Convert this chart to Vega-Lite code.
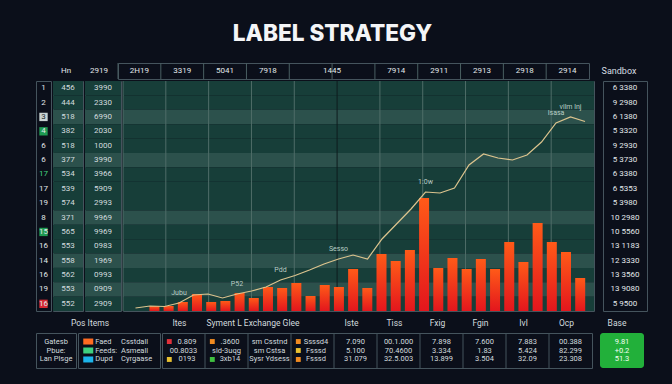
{
  "$schema": "https://vega.github.io/schema/vega-lite/v6.json",
  "background": "#0b0f1a",
  "padding": {"left": 35, "top": 23, "right": 34, "bottom": 18},
  "title": {"text": "LABEL STRATEGY", "font": "Inter", "fontSize": 22.6, "fontWeight": 800, "color": "#f4f5f7", "anchor": "middle", "offset": 16, "dx": -9},
  "config": {
    "view": {"stroke": "#45545d", "strokeWidth": 1},
    "axis": {"disable": true},
    "legend": {"disable": true},
    "text": {"font": "Roboto", "fontSize": 8, "color": "#d2dbdf"}
  },
  "datasets": {
    "rows": [
      {"row": "1", "lab": "1", "a": "456", "b": "3990", "sb": "6 3380"},
      {"row": "2", "lab": "2", "a": "444", "b": "2330", "sb": "9 2980"},
      {"row": "3", "lab": "3", "a": "518", "b": "6990", "sb": "6 1380"},
      {"row": "4", "lab": "4", "a": "382", "b": "2030", "sb": "5 3320"},
      {"row": "5", "lab": "6", "a": "518", "b": "1000", "sb": "9 2930"},
      {"row": "6", "lab": "6", "a": "377", "b": "3990", "sb": "5 3730"},
      {"row": "7", "lab": "17", "a": "534", "b": "3966", "sb": "6 3380"},
      {"row": "8", "lab": "17", "a": "539", "b": "5909", "sb": "6 5353"},
      {"row": "9", "lab": "19", "a": "574", "b": "2993", "sb": "5 3980"},
      {"row": "10", "lab": "8", "a": "371", "b": "9969", "sb": "10 2980"},
      {"row": "11", "lab": "15", "a": "565", "b": "9969", "sb": "10 5560"},
      {"row": "12", "lab": "16", "a": "553", "b": "0983", "sb": "13 1183"},
      {"row": "13", "lab": "14", "a": "558", "b": "1969", "sb": "12 3330"},
      {"row": "14", "lab": "16", "a": "562", "b": "0993", "sb": "13 3560"},
      {"row": "15", "lab": "19", "a": "553", "b": "0909", "sb": "13 9080"},
      {"row": "16", "lab": "16", "a": "552", "b": "2909", "sb": "5 9500"}
    ],
    "cols": [
      {"col": 0, "h": "2H19"}, {"col": 1, "h": "3319"}, {"col": 2, "h": "5041"},
      {"col": 3, "h": "7918"}, {"col": 4, "h": "1445"}, {"col": 5, "h": ""},
      {"col": 6, "h": "7914"}, {"col": 7, "h": "2911"}, {"col": 8, "h": "2913"},
      {"col": 9, "h": "2918"}, {"col": 10, "h": "2914"}
    ],
    "series": [
      {"i": 0, "bar": null, "line": 3},
      {"i": 1, "bar": 5, "line": 5},
      {"i": 2, "bar": 5, "line": 4.5},
      {"i": 3, "bar": 9, "line": 8, "note": "Jubu"},
      {"i": 4, "bar": 17, "line": 16},
      {"i": 5, "bar": 9, "line": 17},
      {"i": 6, "bar": 10, "line": 13},
      {"i": 7, "bar": 18, "line": 17, "note": "P52"},
      {"i": 8, "bar": 13, "line": 20},
      {"i": 9, "bar": 24, "line": 24},
      {"i": 10, "bar": 23, "line": 31, "note": "Pdd"},
      {"i": 11, "bar": 28, "line": 35.5},
      {"i": 12, "bar": 15, "line": 41},
      {"i": 13, "bar": 26, "line": 47},
      {"i": 14, "bar": 24, "line": 52, "note": "Sesso"},
      {"i": 15, "bar": 42, "line": 56},
      {"i": 16, "bar": 23, "line": 52},
      {"i": 17, "bar": 57, "line": 72},
      {"i": 18, "bar": 50, "line": 87},
      {"i": 19, "bar": 61, "line": 102},
      {"i": 20, "bar": 113, "line": 119, "note": "1:0w"},
      {"i": 21, "bar": 43, "line": 118},
      {"i": 22, "bar": 53, "line": 123},
      {"i": 23, "bar": 42, "line": 146},
      {"i": 24, "bar": 52, "line": 157},
      {"i": 25, "bar": 42, "line": 153},
      {"i": 26, "bar": 69, "line": 151},
      {"i": 27, "bar": 49, "line": 156},
      {"i": 28, "bar": 88, "line": 169},
      {"i": 29, "bar": 69, "line": 188, "note": "Isasa"},
      {"i": 30, "bar": 59, "line": 194, "note": "vilm lnj"},
      {"i": 31, "bar": 33, "line": 189.5}
    ],
    "bhead": [
      {"col": 0, "h": "Ites"}, {"col": 1, "h": "Syment L Exchange Glee"}, {"col": 2, "h": ""},
      {"col": 3, "h": ""}, {"col": 4, "h": "Iste"}, {"col": 5, "h": "Tiss"},
      {"col": 6, "h": "Fxig"}, {"col": 7, "h": "Fgin"}, {"col": 8, "h": "Ivl"}, {"col": 9, "h": "Ocp"}
    ],
    "bA": [
      {"line": "1", "t": "Gatesb"}, {"line": "2", "t": "Pbue:"}, {"line": "3", "t": "Lan Plsge"}
    ],
    "bB": [
      {"line": "1", "lab": "Faed", "desc": "Csstdall"},
      {"line": "2", "lab": "Feeds:", "desc": "Asmeall"},
      {"line": "3", "lab": "Dupd", "desc": "Cyrgaase"}
    ],
    "cells": [
      {"col": 0, "line": "1", "t": "0.809", "flag": "red"},
      {"col": 0, "line": "2", "t": "00.8033"},
      {"col": 0, "line": "3", "t": "0193", "flag": "amber"},
      {"col": 1, "line": "1", "t": ".3600", "flag": "orange"},
      {"col": 1, "line": "2", "t": "sld-3uqg"},
      {"col": 1, "line": "3", "t": "3xb14", "flag": "green"},
      {"col": 2, "line": "1", "t": "sm Csstnd"},
      {"col": 2, "line": "2", "t": "sm Cstsa"},
      {"col": 2, "line": "3", "t": "Sysr Ydsess"},
      {"col": 3, "line": "1", "t": "Ssssd4", "flag": "orange"},
      {"col": 3, "line": "2", "t": "Fsssd", "flag": "amber"},
      {"col": 3, "line": "3", "t": "Fsssd", "flag": "orange"},
      {"col": 4, "line": "1", "t": "7.090"},
      {"col": 4, "line": "2", "t": "5.100"},
      {"col": 4, "line": "3", "t": "31.079"},
      {"col": 5, "line": "1", "t": "00.1.000"},
      {"col": 5, "line": "2", "t": "70.4600"},
      {"col": 5, "line": "3", "t": "32.5.003"},
      {"col": 6, "line": "1", "t": "7.898"},
      {"col": 6, "line": "2", "t": "3.334"},
      {"col": 6, "line": "3", "t": "13.899"},
      {"col": 7, "line": "1", "t": "7.600"},
      {"col": 7, "line": "2", "t": "1.83"},
      {"col": 7, "line": "3", "t": "3.504"},
      {"col": 8, "line": "1", "t": "7.883"},
      {"col": 8, "line": "2", "t": "5.424"},
      {"col": 8, "line": "3", "t": "32.09"},
      {"col": 9, "line": "1", "t": "00.388"},
      {"col": 9, "line": "2", "t": "82.299"},
      {"col": 9, "line": "3", "t": "23.308"}
    ],
    "base": [
      {"line": "1", "t": "9.81"}, {"line": "2", "t": "+0.2"}, {"line": "3", "t": "51.3"}
    ]
  },
  "spacing": 3,
  "vconcat": [
    {
      "spacing": 0,
      "vconcat": [
        {
          "spacing": 7,
          "hconcat": [
            {
              "spacing": 0,
              "hconcat": [
                {"width": 15, "height": 16, "view": {"stroke": null}, "data": {"values": [{"h": ""}]}, "mark": "text", "encoding": {"text": {"field": "h"}}},
                {"width": 30, "height": 16, "data": {"values": [{"h": "Hn"}]}, "mark": {"type": "text", "color": "#e2e8ea"}, "encoding": {"text": {"field": "h"}}},
                {"width": 36, "height": 16, "data": {"values": [{"h": "2919"}]}, "mark": {"type": "text", "color": "#e2e8ea"}, "encoding": {"text": {"field": "h"}}},
                {
                  "width": 471, "height": 16, "data": {"name": "cols"},
                  "layer": [
                    {"mark": {"type": "rule", "strokeWidth": 1}, "encoding": {"x": {"field": "col", "type": "ordinal", "bandPosition": 0, "scale": {"type": "band", "domain": [0,1,2,3,4,5,6,7,8,9,10], "paddingInner": 0, "paddingOuter": 0}}, "color": {"value": "#4a5f62"}}},
                    {"transform": [{"filter": "datum.col !== 4"}], "mark": {"type": "text", "color": "#e2e8ea"}, "encoding": {"x": {"field": "col", "type": "ordinal", "scale": {"type": "band", "domain": [0,1,2,3,4,5,6,7,8,9,10], "paddingInner": 0, "paddingOuter": 0}}, "text": {"field": "h"}}},
                    {"transform": [{"filter": "datum.col === 4"}], "mark": {"type": "text", "color": "#e2e8ea"}, "encoding": {"x": {"field": "col", "type": "ordinal", "bandPosition": 1, "scale": {"type": "band", "domain": [0,1,2,3,4,5,6,7,8,9,10], "paddingInner": 0, "paddingOuter": 0}}, "text": {"field": "h"}}}
                  ]
                }
              ]
            },
            {"width": 44, "height": 16, "view": {"stroke": null}, "data": {"values": [{"h": "Sandbox"}]}, "mark": {"type": "text", "fontSize": 9, "color": "#d6dde2"}, "encoding": {"text": {"field": "h"}}}
          ]
        },
        {
          "spacing": 7,
          "hconcat": [
            {
              "spacing": 0,
              "hconcat": [
                {
                  "width": 15, "height": 230, "data": {"name": "rows"},
                  "layer": [
                    {"transform": [{"filter": "indexof(['3','4','11','16'], datum.row) >= 0"}], "mark": {"type": "square", "size": 70, "opacity": 1},
                     "encoding": {"y": {"field": "row", "type": "ordinal", "scale": {"type": "band", "domain": ["1","2","3","4","5","6","7","8","9","10","11","12","13","14","15","16"], "paddingInner": 0, "paddingOuter": 0}},
                       "color": {"condition": [{"test": "datum.row === '3'", "value": "#c9d3d3"}, {"test": "datum.row === '16'", "value": "#d42a33"}], "value": "#1f9a52"}}},
                    {"mark": {"type": "text"},
                     "encoding": {"y": {"field": "row", "type": "ordinal", "scale": {"type": "band", "domain": ["1","2","3","4","5","6","7","8","9","10","11","12","13","14","15","16"], "paddingInner": 0, "paddingOuter": 0}},
                       "text": {"field": "lab"},
                       "color": {"condition": [{"test": "datum.row === '7'", "value": "#45d07f"}, {"test": "datum.row === '3'", "value": "#1a2a2a"}], "value": "#e2e8ea"}}}
                  ]
                },
                {
                  "width": 30, "height": 230, "data": {"name": "rows"},
                  "layer": [
                    {"mark": "rect", "encoding": {"y": {"field": "row", "type": "ordinal", "scale": {"type": "band", "domain": ["1","2","3","4","5","6","7","8","9","10","11","12","13","14","15","16"], "paddingInner": 0, "paddingOuter": 0}},
                      "color": {"condition": {"test": "indexof(['3','6','10','13','15'], datum.row) >= 0", "value": "#2c514c"}, "value": "#173e39"}}},
                    {"mark": {"type": "text"}, "encoding": {"y": {"field": "row", "type": "ordinal", "scale": {"type": "band", "domain": ["1","2","3","4","5","6","7","8","9","10","11","12","13","14","15","16"], "paddingInner": 0, "paddingOuter": 0}}, "text": {"field": "a"}}}
                  ]
                },
                {
                  "width": 36, "height": 230, "data": {"name": "rows"},
                  "layer": [
                    {"mark": "rect", "encoding": {"y": {"field": "row", "type": "ordinal", "scale": {"type": "band", "domain": ["1","2","3","4","5","6","7","8","9","10","11","12","13","14","15","16"], "paddingInner": 0, "paddingOuter": 0}},
                      "color": {"condition": {"test": "indexof(['3','6','10','13','15'], datum.row) >= 0", "value": "#2c514c"}, "value": "#173e39"}}},
                    {"mark": {"type": "text"}, "encoding": {"y": {"field": "row", "type": "ordinal", "scale": {"type": "band", "domain": ["1","2","3","4","5","6","7","8","9","10","11","12","13","14","15","16"], "paddingInner": 0, "paddingOuter": 0}}, "text": {"field": "b"}}}
                  ]
                },
                {
                  "width": 471, "height": 230,
                  "resolve": {"scale": {"x": "independent", "y": "independent"}},
                  "layer": [
                    {"data": {"name": "rows"}, "mark": "rect",
                     "encoding": {"y": {"field": "row", "type": "ordinal", "scale": {"type": "band", "domain": ["1","2","3","4","5","6","7","8","9","10","11","12","13","14","15","16"], "paddingInner": 0, "paddingOuter": 0}},
                       "color": {"condition": {"test": "indexof(['3','6','10','13','15'], datum.row) >= 0", "value": "#2c514c"}, "value": "#173e39"}}},
                    {"data": {"name": "cols"}, "mark": {"type": "rule", "strokeWidth": 1},
                     "encoding": {"x": {"field": "col", "type": "ordinal", "bandPosition": 0, "scale": {"type": "band", "domain": [0,1,2,3,4,5,6,7,8,9,10], "paddingInner": 0, "paddingOuter": 0}},
                       "color": {"condition": {"test": "datum.col === 5", "value": "#0e1b1d"}, "value": "#4f6d68"}}},
                    {"data": {"name": "series"}, "transform": [{"filter": "isValid(datum.bar)"}],
                     "mark": {"type": "bar", "orient": "vertical", "size": 10, "color": {"gradient": "linear", "x1": 0, "y1": 0, "x2": 0, "y2": 1, "stops": [{"offset": 0, "color": "#ff5a18"}, {"offset": 1, "color": "#e3161d"}]}},
                     "encoding": {"x": {"field": "i", "type": "quantitative", "scale": {"domain": [-0.862, 31.62], "nice": false, "zero": false}},
                       "y": {"field": "bar", "type": "quantitative", "stack": null, "scale": {"domain": [0, 230], "nice": false}}}},
                    {"data": {"name": "series"}, "mark": {"type": "line", "color": "#dcc48e", "strokeWidth": 1.2},
                     "encoding": {"x": {"field": "i", "type": "quantitative", "scale": {"domain": [-0.862, 31.62], "nice": false, "zero": false}},
                       "y": {"field": "line", "type": "quantitative", "scale": {"domain": [0, 230], "nice": false}}}},
                    {"data": {"name": "series"}, "transform": [{"filter": "isValid(datum.note)"}],
                     "mark": {"type": "text", "fontSize": 7, "color": "#b9cdc6", "dy": -10},
                     "encoding": {"x": {"field": "i", "type": "quantitative", "scale": {"domain": [-0.862, 31.62], "nice": false, "zero": false}},
                       "y": {"field": "line", "type": "quantitative", "scale": {"domain": [0, 230], "nice": false}},
                       "text": {"field": "note"}}}
                  ]
                }
              ]
            },
            {
              "width": 44, "height": 230, "data": {"name": "rows"},
              "mark": {"type": "text", "color": "#e2e8ea"},
              "encoding": {"y": {"field": "row", "type": "ordinal", "scale": {"type": "band", "domain": ["1","2","3","4","5","6","7","8","9","10","11","12","13","14","15","16"], "paddingInner": 0, "paddingOuter": 0}}, "text": {"field": "sb"}}
            }
          ]
        }
      ]
    },
    {
      "spacing": 1,
      "vconcat": [
        {
          "spacing": 7,
          "hconcat": [
            {
              "spacing": 0,
              "hconcat": [
                {"width": 122, "height": 16, "view": {"stroke": null}, "data": {"values": [{"h": "Pos Items"}]}, "mark": {"type": "text", "fontSize": 8.5, "dx": -7}, "encoding": {"text": {"field": "h"}}},
                {
                  "width": 430, "height": 16, "view": {"stroke": null}, "data": {"name": "bhead"},
                  "layer": [
                    {"transform": [{"filter": "datum.col !== 1"}], "mark": {"type": "text", "fontSize": 8.5},
                     "encoding": {"x": {"field": "col", "type": "ordinal", "scale": {"type": "band", "domain": [0,1,2,3,4,5,6,7,8,9], "paddingInner": 0, "paddingOuter": 0}}, "text": {"field": "h"}}},
                    {"transform": [{"filter": "datum.col === 1"}], "mark": {"type": "text", "fontSize": 8.5, "dx": 9},
                     "encoding": {"x": {"field": "col", "type": "ordinal", "bandPosition": 1, "scale": {"type": "band", "domain": [0,1,2,3,4,5,6,7,8,9], "paddingInner": 0, "paddingOuter": 0}}, "text": {"field": "h"}}}
                  ]
                }
              ]
            },
            {"width": 44, "height": 16, "view": {"stroke": null}, "data": {"values": [{"h": "Base"}]}, "mark": {"type": "text", "fontSize": 8.5}, "encoding": {"text": {"field": "h"}}}
          ]
        },
        {
          "spacing": 7,
          "hconcat": [
            {
              "spacing": 0,
              "hconcat": [
                {
                  "width": 40, "height": 35, "data": {"name": "bA"},
                  "mark": {"type": "text", "fontSize": 7.5},
                  "encoding": {"y": {"field": "line", "type": "ordinal", "scale": {"type": "point", "domain": ["1","2","3"], "padding": 0.95}}, "text": {"field": "t"}}
                },
                {
                  "width": 82, "height": 35, "data": {"name": "bB"},
                  "layer": [
                    {"mark": {"type": "point", "shape": "M-1,-0.6H1V0.6H-1Z", "size": 100, "filled": true, "opacity": 1},
                     "encoding": {"x": {"datum": "a", "type": "ordinal", "bandPosition": 0.25, "scale": {"type": "band", "domain": ["a","b"], "paddingInner": 0, "paddingOuter": 0}},
                       "y": {"field": "line", "type": "ordinal", "scale": {"type": "point", "domain": ["1","2","3"], "padding": 0.95}},
                       "color": {"condition": [{"test": "datum.line === '1'", "value": "#ff6b21"}, {"test": "datum.line === '2'", "value": "#3fd07f"}], "value": "#1cb4ea"}}},
                    {"mark": {"type": "text", "fontSize": 7.5, "align": "left"},
                     "encoding": {"x": {"datum": "a", "type": "ordinal", "bandPosition": 0.42, "scale": {"type": "band", "domain": ["a","b"], "paddingInner": 0, "paddingOuter": 0}},
                       "y": {"field": "line", "type": "ordinal", "scale": {"type": "point", "domain": ["1","2","3"], "padding": 0.95}},
                       "text": {"field": "lab"}}},
                    {"mark": {"type": "text", "fontSize": 7.5, "align": "left"},
                     "encoding": {"x": {"datum": "b", "type": "ordinal", "bandPosition": 0.05, "scale": {"type": "band", "domain": ["a","b"], "paddingInner": 0, "paddingOuter": 0}},
                       "y": {"field": "line", "type": "ordinal", "scale": {"type": "point", "domain": ["1","2","3"], "padding": 0.95}},
                       "text": {"field": "desc"}}}
                  ]
                },
                {
                  "width": 430, "height": 35,
                  "layer": [
                    {"data": {"name": "bhead"}, "transform": [{"filter": "datum.col > 0"}], "mark": {"type": "rule", "color": "#45545d"},
                     "encoding": {"x": {"field": "col", "type": "ordinal", "bandPosition": 0, "scale": {"type": "band", "domain": [0,1,2,3,4,5,6,7,8,9], "paddingInner": 0, "paddingOuter": 0}}}},
                    {"data": {"name": "cells"}, "transform": [{"filter": "isValid(datum.flag)"}],
                     "mark": {"type": "square", "size": 24, "opacity": 1},
                     "encoding": {"x": {"field": "col", "type": "ordinal", "bandPosition": 0.17, "scale": {"type": "band", "domain": [0,1,2,3,4,5,6,7,8,9], "paddingInner": 0, "paddingOuter": 0}},
                       "y": {"field": "line", "type": "ordinal", "scale": {"type": "point", "domain": ["1","2","3"], "padding": 0.95}},
                       "color": {"condition": [{"test": "datum.flag === 'red'", "value": "#e0303a"}, {"test": "datum.flag === 'amber'", "value": "#e8c030"}, {"test": "datum.flag === 'green'", "value": "#40c040"}], "value": "#f08a20"}}},
                    {"data": {"name": "cells"}, "transform": [{"filter": "isValid(datum.flag)"}],
                     "mark": {"type": "text", "fontSize": 7.5},
                     "encoding": {"x": {"field": "col", "type": "ordinal", "bandPosition": 0.58, "scale": {"type": "band", "domain": [0,1,2,3,4,5,6,7,8,9], "paddingInner": 0, "paddingOuter": 0}},
                       "y": {"field": "line", "type": "ordinal", "scale": {"type": "point", "domain": ["1","2","3"], "padding": 0.95}},
                       "text": {"field": "t"}}},
                    {"data": {"name": "cells"}, "transform": [{"filter": "!isValid(datum.flag)"}],
                     "mark": {"type": "text", "fontSize": 7.5},
                     "encoding": {"x": {"field": "col", "type": "ordinal", "scale": {"type": "band", "domain": [0,1,2,3,4,5,6,7,8,9], "paddingInner": 0, "paddingOuter": 0}},
                       "y": {"field": "line", "type": "ordinal", "scale": {"type": "point", "domain": ["1","2","3"], "padding": 0.95}},
                       "text": {"field": "t"}}}
                  ]
                }
              ]
            },
            {
              "width": 44, "height": 35, "view": {"stroke": null, "fill": "#22b03a", "cornerRadius": 3},
              "data": {"name": "base"},
              "mark": {"type": "text", "fontSize": 7.5, "color": "#f2fff2"},
              "encoding": {"y": {"field": "line", "type": "ordinal", "scale": {"type": "point", "domain": ["1","2","3"], "padding": 0.95}}, "text": {"field": "t"}}
            }
          ]
        }
      ]
    }
  ]
}
